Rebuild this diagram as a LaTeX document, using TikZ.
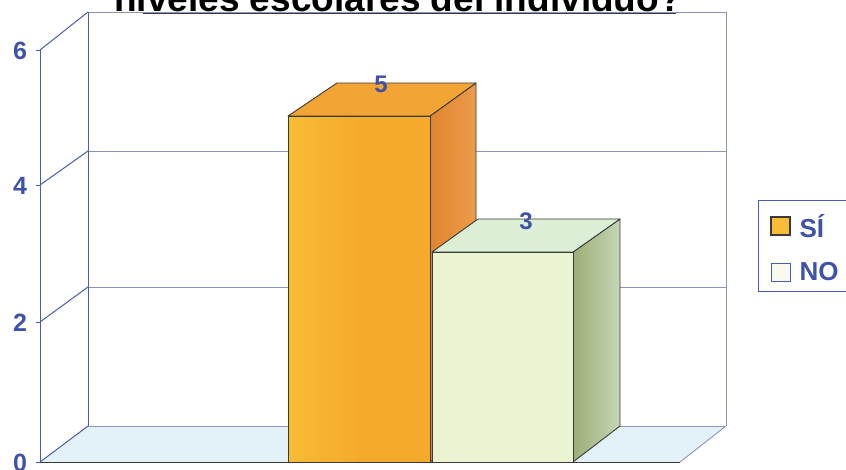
\documentclass[tikz,border=0pt]{standalone}
\usepackage{fontspec}
\setmainfont{Liberation Sans}
\definecolor{axisblue}{HTML}{4A5DB5}
\definecolor{gridgray}{HTML}{8A94BC}
\definecolor{labelblue}{HTML}{3F51A8}
\definecolor{floorblue}{HTML}{E3F1F8}
\definecolor{orfront}{HTML}{F6AA2C}
\definecolor{orfrontL}{HTML}{F8BC36}
\definecolor{ortop}{HTML}{F2A535}
\definecolor{orside}{HTML}{E0852E}
\definecolor{orsideR}{HTML}{EC9C4A}
\definecolor{grfront}{HTML}{EAF4D2}
\definecolor{grtop}{HTML}{DCEFD6}
\definecolor{grside}{HTML}{9DAE76}
\definecolor{grsideR}{HTML}{C4D6B6}
\definecolor{edgegray}{HTML}{3A3A3A}
\begin{document}
\begin{tikzpicture}[x=1pt,y=-1pt,
  axisline/.style={draw=axisblue, line width=1pt},
  gridline/.style={draw=gridgray, line width=0.9pt},
  baredge/.style={draw=edgegray, line width=0.9pt, line join=round},
  ticklbl/.style={font=\fontsize{25}{25}\selectfont\bfseries, text=labelblue},
  vallbl/.style={font=\fontsize{24}{24}\selectfont\bfseries, text=labelblue},
  leglbl/.style={font=\fontsize{26}{26}\selectfont\bfseries, text=labelblue, anchor=west}]
\useasboundingbox (0,0) rectangle (846,469);
\fill[white] (0,0) rectangle (846,469);
% named corners
\coordinate (F0) at (40,462);
\coordinate (F2) at (40,322);
\coordinate (F4) at (40,185);
\coordinate (F6) at (40,50);
\coordinate (B0) at (88,426);
\coordinate (B2) at (88,287);
\coordinate (B4) at (88,151);
\coordinate (B6) at (88,12);
\coordinate (R0) at (726,426);
\coordinate (R2) at (726,287);
\coordinate (R4) at (726,151);
\coordinate (R6) at (726,12);
\coordinate (FR) at (680,462);
% floor
\fill[floorblue] (F0) -- (FR) -- (R0) -- (B0) -- cycle;
% back wall grid
\draw[gridline] (B2) -- (R2);
\draw[gridline] (B4) -- (R4);
\draw[gridline] (B0) -- (R0);
\draw[gridline] (B6) -- (R6);
\draw[gridline] (R6) -- (R0);
\draw[axisline] (B6) -- (B0);
% left wall
\draw[axisline] (F6) -- (F0);
\draw[axisline] (F6) -- (B6);
\draw[axisline] (F4) -- (B4);
\draw[axisline] (F2) -- (B2);
\draw[axisline] (F0) -- (B0);
\foreach \p in {F0,F2,F4,F6} \draw[axisline] (\p) -- ++(-4,0);
% floor edges
\draw[gridline] (FR) -- (R0);
\draw[draw=edgegray, line width=1pt] (F0) -- (FR);
% title underline
\draw[draw=edgegray, line width=1pt] (143,13) -- (676,13);
% orange bar (SI = 5)
\coordinate (oa) at (288,116); \coordinate (ob) at (430,116);
\coordinate (oc) at (476,83);  \coordinate (od) at (337,83);
\coordinate (oe) at (430,462); \coordinate (of) at (288,462);
\coordinate (og) at (476,428);
\shade[left color=orside, right color=orsideR] (ob) -- (oc) -- (og) -- (oe) -- cycle;
\draw[baredge] (ob) -- (oc) -- (og) -- (oe) -- cycle;
\fill[ortop] (oa) -- (ob) -- (oc) -- (od) -- cycle;
\draw[baredge] (oa) -- (ob) -- (oc) -- (od) -- cycle;
\shade[left color=orfrontL, right color=orfront, middle color=orfront] (oa) rectangle (oe);
\draw[baredge] (oa) rectangle (oe);
% green bar (NO = 3)
\coordinate (ga) at (432,252); \coordinate (gb) at (573,252);
\coordinate (gc) at (620,219); \coordinate (gd) at (478,219);
\coordinate (ge) at (573,462); \coordinate (gf) at (432,462);
\coordinate (gg) at (620,426);
\shade[left color=grside, right color=grsideR] (gb) -- (gc) -- (gg) -- (ge) -- cycle;
\draw[baredge] (gb) -- (gc) -- (gg) -- (ge) -- cycle;
\fill[grtop] (ga) -- (gb) -- (gc) -- (gd) -- cycle;
\draw[baredge] (ga) -- (gb) -- (gc) -- (gd) -- cycle;
\fill[grfront] (ga) rectangle (ge);
\draw[baredge] (ga) rectangle (ge);
% value labels
\node[vallbl] (v5) at (381,84) {5};
\node[vallbl] (v3) at (526,221) {3};
% tick labels
\node[ticklbl] (t6) at (20,51) {6};
\node[ticklbl] (t4) at (20,186) {4};
\node[ticklbl] (t2) at (20,323) {2};
\node[ticklbl] (t0) at (20,463) {0};
% title
\node[font=\fontsize{37}{37}\selectfont\bfseries, anchor=base] (title) at (398,11) {niveles escolares del individuo?};
% legend
\draw[draw=axisblue, line width=0.9pt] (758,200) rectangle (852,291);
\draw[draw=edgegray, line width=1.2pt, fill=orfrontL] (771,217) rectangle (790,235);
\draw[draw=axisblue, line width=0.9pt, fill=grfront!40!white] (771,263) rectangle (790,281);
\node[leglbl] (lsi) at (796,226) {SÍ};
\node[leglbl] (lno) at (796,272) {NO};
\end{tikzpicture}
\end{document}
